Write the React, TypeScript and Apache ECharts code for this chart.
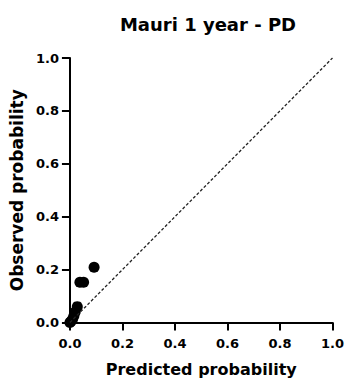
import React, { useEffect, useRef } from "react";
import * as echarts from "echarts";

const title = "Mauri 1 year - PD";
const xName = "Predicted probability";
const yName = "Observed probability";
const predicted = [0.0, 0.004, 0.01, 0.015, 0.02, 0.028, 0.038, 0.052, 0.092];
const observed = [0.0, 0.004, 0.012, 0.025, 0.04, 0.06, 0.152, 0.152, 0.209];
const diagonal = [[0, 0], [1, 1]];

export default function App() {
  const ref = useRef<HTMLDivElement>(null);
  useEffect(() => {
    const chart = echarts.init(ref.current!, null, { renderer: "svg" });
    const font = "'DejaVu Sans', Arial, sans-serif";
    chart.setOption({
      animation: false,
      title: {
        text: title,
        left: 203,
        top: 10,
        textAlign: "center",
        textStyle: { fontFamily: font, fontWeight: "bold", fontSize: 18, color: "#000" },
      },
      grid: { left: 69, right: 10, top: 58, bottom: 60.5, containLabel: false },
      xAxis: {
        type: "value",
        min: 0,
        max: 1,
        interval: 0.2,
        name: xName,
        nameLocation: "middle",
        nameGap: 39,
        nameTextStyle: { fontFamily: font, fontWeight: "bold", fontSize: 16, color: "#000" },
        axisLine: { lineStyle: { color: "#000", width: 2 } },
        axisTick: { length: 8, lineStyle: { color: "#000", width: 2 } },
        axisLabel: {
          fontFamily: font, fontWeight: "bold", fontSize: 13, color: "#000", margin: 14,
          formatter: (v: number) => v.toFixed(1),
        },
        splitLine: { show: false },
      },
      yAxis: {
        type: "value",
        min: 0,
        max: 1,
        interval: 0.2,
        name: yName,
        nameLocation: "middle",
        nameGap: 35,
        nameTextStyle: { fontFamily: font, fontWeight: "bold", fontSize: 17, color: "#000" },
        axisLine: { lineStyle: { color: "#000", width: 2 } },
        axisTick: { length: 8, lineStyle: { color: "#000", width: 2 } },
        axisLabel: {
          fontFamily: font, fontWeight: "bold", fontSize: 13, color: "#000", margin: 11,
          formatter: (v: number) => v.toFixed(1),
        },
        splitLine: { show: false },
      },
      series: [
        {
          type: "line",
          data: diagonal,
          symbol: "none",
          lineStyle: { color: "#222", width: 1.3, type: [3, 2] },
          silent: true,
        },
        {
          type: "scatter",
          data: predicted.map((p, i) => [p, observed[i]]),
          symbolSize: 11,
          itemStyle: { color: "#000", opacity: 1 },
        },
      ],
    });
    return () => chart.dispose();
  }, []);
  return <div ref={ref} style={{ width: 347, height: 383, position: "absolute", left: 0, top: 0 }} />;
}
